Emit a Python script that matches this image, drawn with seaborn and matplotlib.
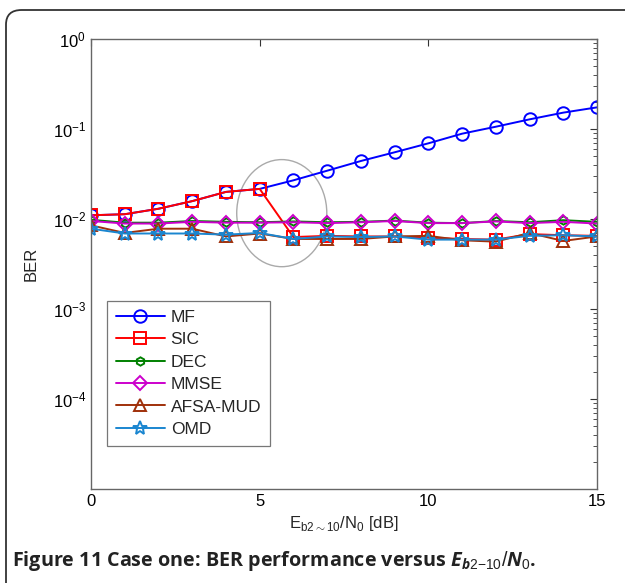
import numpy as np
import pandas as pd
import matplotlib
matplotlib.use("Agg")
import matplotlib.pyplot as plt
import seaborn as sns
from matplotlib.patches import Ellipse, FancyBboxPatch

snr = list(range(16))
mf = [0.0110, 0.0113, 0.0130, 0.0158, 0.0200, 0.0216, 0.0269, 0.0344, 0.0441, 0.0551,
      0.0693, 0.0887, 0.106, 0.128, 0.152, 0.174]
sic = [0.0110, 0.0113, 0.0130, 0.0158, 0.0200, 0.0216, 0.0063, 0.0065, 0.0064, 0.0064,
       0.0062, 0.0060, 0.0059, 0.0068, 0.0066, 0.0065]
dec = [0.0098, 0.0091, 0.0091, 0.0095, 0.0093, 0.0092, 0.0094, 0.0092, 0.0093, 0.0096,
       0.0091, 0.0090, 0.0095, 0.0092, 0.0097, 0.0093]
mmse = [0.0095, 0.0089, 0.0089, 0.0093, 0.0091, 0.0091, 0.0092, 0.0090, 0.0092, 0.0095,
        0.0090, 0.0090, 0.0094, 0.0090, 0.0093, 0.0089]
afsa = [0.0085, 0.0070, 0.0078, 0.0078, 0.0064, 0.0069, 0.0060, 0.0060, 0.0060, 0.0064,
        0.0065, 0.0058, 0.0056, 0.0070, 0.0057, 0.0064]
omd = [0.0078, 0.0069, 0.0069, 0.0069, 0.0067, 0.0070, 0.0060, 0.0064, 0.0063, 0.0064,
       0.0059, 0.0059, 0.0059, 0.0065, 0.0066, 0.0064]

names = ["MF", "SIC", "DEC", "MMSE", "AFSA-MUD", "OMD"]
series = [mf, sic, dec, mmse, afsa, omd]
colors = ["#0000ff", "#ff0000", "#008000", "#cc00cc", "#a0300a", "#1a86d0"]
markers = ["o", "s", "h", "D", "^", "*"]
msizes = [9, 8, 6, 7, 9, 10]

sns.set_style("white")
plt.rcParams["font.family"] = ["Liberation Sans", "DejaVu Sans"]
plt.rcParams["axes.unicode_minus"] = False
plt.rcParams["mathtext.fontset"] = "custom"
plt.rcParams["mathtext.rm"] = "Liberation Sans"
plt.rcParams["mathtext.it"] = "Open Sans:italic:bold"
plt.rcParams["mathtext.bf"] = "Open Sans:bold"

fig = plt.figure(figsize=(6.25, 5.83), dpi=100)
W, H = 625, 583
ax = fig.add_axes([91 / W, 1 - 489 / H, 506 / W, 450 / H])

for name, vals, c, m, ms in zip(names, series, colors, markers, msizes):
    df = pd.DataFrame({"x": snr, "y": vals})
    sns.lineplot(data=df, x="x", y="y", ax=ax, color=c, marker=m, markersize=ms,
                 markerfacecolor="none", markeredgecolor=c, markeredgewidth=1.4,
                 linewidth=1.4, label=name)

ax.set_yscale("log")
ax.set_ylim(1e-5, 1)
ax.set_xlim(0, 15)
ax.set_xticks([0, 5, 10, 15])
ax.set_yticks([1e-4, 1e-3, 1e-2, 1e-1, 1e0])
ax.yaxis.set_minor_locator(matplotlib.ticker.LogLocator(base=10, subs=np.arange(2, 10)))
ax.yaxis.set_minor_formatter(matplotlib.ticker.NullFormatter())
ax.tick_params(which="both", direction="in", top=True, right=True, labelsize=12,
               colors="#333333", labelcolor="black")
ax.tick_params(which="major", length=5, width=0.8)
ax.tick_params(which="minor", length=3, width=0.6)
for s in ax.spines.values():
    s.set_color("#666666")
    s.set_linewidth(1.0)

ax.set_xlabel(r"E$_{\mathregular{b2}{\sim}\mathregular{10}}$/N$_\mathregular{0}$ [dB]",
              fontsize=12, labelpad=4)
ax.set_ylabel("BER", fontsize=12, labelpad=10)

ell = Ellipse((0.377, 0.613), 0.178, 0.238, transform=ax.transAxes, fill=False,
              edgecolor="#aaaaaa", linewidth=1.0, zorder=1)
ax.add_patch(ell)

leg = ax.legend(loc="lower left", bbox_to_anchor=(0.015, 0.077), fontsize=12.5,
                frameon=True, fancybox=False, edgecolor="#555555", handlelength=2.8,
                labelspacing=0.42, borderpad=0.5, handletextpad=0.35)
leg.get_frame().set_linewidth(0.9)

frame = FancyBboxPatch((6 / W, -0.05), 2.0, 1 - 10 / H + 0.05,
                       boxstyle="round,pad=0,rounding_size=0.025",
                       transform=fig.transFigure, fill=False, edgecolor="#333333",
                       linewidth=1.3, clip_on=False)
fig.patches.append(frame)

fig.text(12 / W, 1 - 561 / H,
         r"Figure 11 Case one: BER performance versus $E_{b2\mathrm{-}10}/N_0$.",
         fontsize=14.2, fontweight="bold", family="Open Sans", color="#222222",
         va="center", ha="left")

fig.savefig("out.png", dpi=100)
